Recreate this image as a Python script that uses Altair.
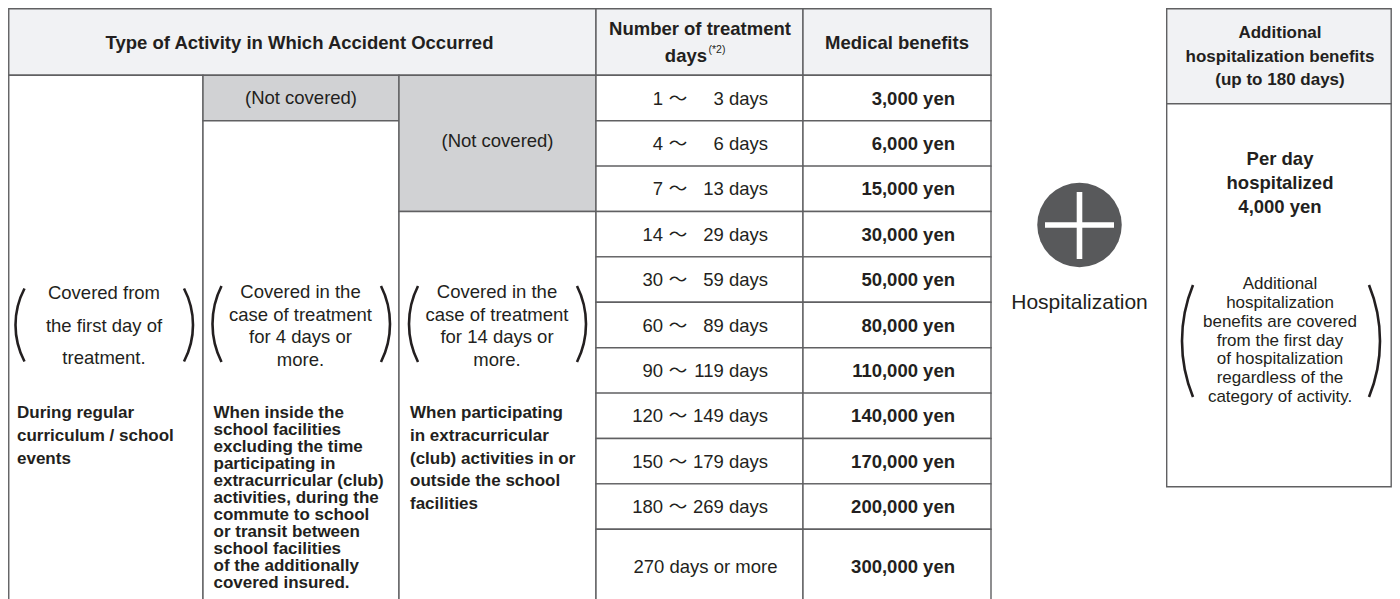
import math
import altair as alt
import pandas as pd

# ------------------------------------------------------------------ data
day_from = [1, 4, 7, 14, 30, 60, 90, 120, 150, 180]
day_to = [3, 6, 13, 29, 59, 89, 119, 149, 179, 269]
open_ended_from = 270
medical_benefit_yen = [3000, 6000, 15000, 30000, 50000, 80000,
                       110000, 140000, 170000, 200000, 300000]
coverage_start_day = [1, 4, 14]
coverage_notes = [
    ["Covered from", "the first day of", "treatment."],
    ["Covered in the", "case of treatment", "for 4 days or", "more."],
    ["Covered in the", "case of treatment", "for 14 days or", "more."],
]
activity_types = [
    ["During regular", "curriculum / school", "events"],
    ["When inside the", "school facilities", "excluding the time",
     "participating in", "extracurricular (club)", "activities, during the",
     "commute to school", "or transit between", "school facilities",
     "of the additionally", "covered insured."],
    ["When participating", "in extracurricular", "(club) activities in or",
     "outside the school", "facilities"],
]
header_activity = "Type of Activity in Which Accident Occurred"
header_days = ["Number of treatment", "days"]
header_days_note = "(*2)"
header_benefit = "Medical benefits"
not_covered = "(Not covered)"
hosp_label = "Hospitalization"
hosp_max_days = 180
hosp_per_day_yen = 4000
hosp_header = ["Additional", "hospitalization benefits", f"(up to {hosp_max_days} days)"]
hosp_amount = ["Per day", "hospitalized", f"{hosp_per_day_yen:,} yen"]
hosp_note = ["Additional", "hospitalization", "benefits are covered",
             "from the first day", "of hospitalization", "regardless of the",
             "category of activity."]

# ------------------------------------------------------------------ style / layout
FONT = "Liberation Sans"
CJK = "Noto Sans CJK JP"
INK = "#231f20"
LINE = "#606062"
HEAD_FILL = "#f1f2f4"
GRAY_FILL = "#d1d2d4"
WHITE = "#ffffff"

L, T = 8.75, 8.75
HB = 75.3
COLS = [L, 203, 399, 596, 803, 991]
ROW0, ROWH = 75.3, 45.4
BOTTOM = 605
n = len(day_from)
row_top = [ROW0 + ROWH * i for i in range(n + 1)]
row_bot = row_top[1:] + [BOTTOM]

BOX_L, BOX_R, BOX_HB, BOX_B = 1166.7, 1391.2, 103.7, 486.7
CIRC_X, CIRC_Y, CIRC_D = 1079.5, 225, 84.5

# ------------------------------------------------------------------ cells
rects = []


def cell(x1, x2, y1, y2, fill, stroke=LINE):
    rects.append(dict(x1=x1, x2=x2, y1=y1, y2=y2, fill=fill, stroke=stroke))


cell(COLS[0], COLS[3], T, HB, HEAD_FILL)
cell(COLS[3], COLS[4], T, HB, HEAD_FILL)
cell(COLS[4], COLS[5], T, HB, HEAD_FILL)

gray_rows = []
for k, start in enumerate(coverage_start_day):
    g = sum(1 for d in day_to if d < start)
    gray_rows.append(g)
    if g > 0:
        cell(COLS[k], COLS[k + 1], ROW0, row_top[g], GRAY_FILL)
        cell(COLS[k], COLS[k + 1], row_top[g], BOTTOM, WHITE)
    else:
        cell(COLS[k], COLS[k + 1], ROW0, BOTTOM, WHITE)

for i in range(n + 1):
    cell(COLS[3], COLS[4], row_top[i], row_bot[i], WHITE)
    cell(COLS[4], COLS[5], row_top[i], row_bot[i], WHITE)

cell(BOX_L, BOX_R, T, BOX_HB, HEAD_FILL)
cell(BOX_L, BOX_R, BOX_HB, BOX_B, WHITE)

cross = [
    dict(x1=CIRC_X - 34.5, x2=CIRC_X + 34.5, y1=CIRC_Y - 2.8, y2=CIRC_Y + 2.8, fill=WHITE, stroke="transparent"),
    dict(x1=CIRC_X - 2.8, x2=CIRC_X + 2.8, y1=CIRC_Y - 33, y2=CIRC_Y + 34, fill=WHITE, stroke="transparent"),
]

# ------------------------------------------------------------------ texts
texts = []


def add(x, y, s, size, weight="normal", align="center", font=FONT):
    texts.append(dict(x=x, y=y, text=s, size=size, weight=weight, align=align, font=font))


add(299.5, 43, header_activity, 18.5, "bold")
add(700, 29, header_days[0], 18.5, "bold")
add(707, 56, header_days[1], 18.5, "bold", "right")
add(708.5, 50, header_days_note, 10.5, "normal", "left")
add(897, 43, header_benefit, 18.5, "bold")

for i in range(n):
    yc = row_top[i] + 23.2
    add(663, yc, str(day_from[i]), 18.5, "normal", "right")
    add(678, yc, "〜", 18.5, "normal", "center", CJK)
    add(768, yc, f"{day_to[i]} days", 18.5, "normal", "right")
add(705.5, (row_top[n] + BOTTOM) / 2, f"{open_ended_from} days or more", 18.5)
for i, v in enumerate(medical_benefit_yen):
    yc = row_top[i] + 23.2 if i < n else (row_top[n] + BOTTOM) / 2
    add(955, yc, f"{v:,} yen", 18.5, "bold", "right")

# not covered labels
for k, g in enumerate(gray_rows):
    if g > 0:
        xc = (COLS[k] + COLS[k + 1]) / 2
        yc = (ROW0 + row_top[g]) / 2 - (0 if g == 1 else 2)
        add(xc, yc, not_covered, 18.5)

# coverage notes
note_x = [104, 300.5, 497]
note_y0 = [293.3, 291.7, 291.7]
note_dy = [32.2, 22.8, 22.8]
for k, lines in enumerate(coverage_notes):
    for j, s in enumerate(lines):
        add(note_x[k], note_y0[k] + j * note_dy[k], s, 18.5)

# activity types (bold, left aligned)
act_x = [17, 213.5, 410]
act_y0 = [413.3, 412.7, 412.7]
act_dy = [23.0, 17.06, 22.9]
for k, lines in enumerate(activity_types):
    for j, s in enumerate(lines):
        add(act_x[k], act_y0[k] + j * act_dy[k], s, 17, "bold", "left")

# hospitalization side
add(CIRC_X, 303.3, hosp_label, 21)
for j, s in enumerate(hosp_header):
    add(1280, 33.3 + j * 23.4, s, 17, "bold")
for j, s in enumerate(hosp_amount):
    add(1280, 159.3 + j * 24, s, 18.5, "bold")
for j, s in enumerate(hosp_note):
    add(1280, 284 + j * 18.85, s, 17)

# ------------------------------------------------------------------ brackets (arcs)
brackets = [  # left-most x, right-most x, top, bottom, depth
    (15.5, 193, 288.5, 361.5, 9),
    (212.5, 390, 286, 362, 9),
    (409, 586, 286, 362, 9),
    (1182, 1380, 285, 397, 11),
]
arcs = []
TH = 2.6
for xl, xr, yt, yb, d in brackets:
    a = (yb - yt) / 2
    R = (a * a + d * d) / (2 * d)
    al = math.asin(a / R)
    cy = (yt + yb) / 2
    arcs.append(dict(cx=xl + R, cy=cy, t1=1.5 * math.pi - al, t2=1.5 * math.pi + al,
                     ro=R + TH / 2, ri=R - TH / 2))
    arcs.append(dict(cx=xr - R, cy=cy, t1=0.5 * math.pi - al, t2=0.5 * math.pi + al,
                     ro=R + TH / 2, ri=R - TH / 2))

# ------------------------------------------------------------------ chart
W, H = 1384, 591
xs = alt.Scale(domain=[8, 8 + W], nice=False, zero=False)
ys = alt.Scale(domain=[8, 8 + H], nice=False, zero=False, reverse=True)

rect_layer = alt.Chart(pd.DataFrame(rects)).mark_rect(strokeWidth=1.4, clip=True).encode(
    x=alt.X("x1:Q", scale=xs, axis=None), x2="x2:Q",
    y=alt.Y("y1:Q", scale=ys, axis=None), y2="y2:Q",
    fill=alt.Fill("fill:N", scale=None), stroke=alt.Stroke("stroke:N", scale=None))

circle_layer = alt.Chart(pd.DataFrame([dict(cx=CIRC_X, cy=CIRC_Y, s=CIRC_D ** 2)])).mark_circle(
    color="#58595b", opacity=1).encode(
    x=alt.X("cx:Q", scale=xs, axis=None), y=alt.Y("cy:Q", scale=ys, axis=None),
    size=alt.Size("s:Q", scale=None))

cross_layer = alt.Chart(pd.DataFrame(cross)).mark_rect().encode(
    x=alt.X("x1:Q", scale=xs, axis=None), x2="x2:Q",
    y=alt.Y("y1:Q", scale=ys, axis=None), y2="y2:Q",
    fill=alt.Fill("fill:N", scale=None))

arc_layer = alt.Chart(pd.DataFrame(arcs)).mark_arc(color=INK).encode(
    x=alt.X("cx:Q", scale=xs, axis=None), y=alt.Y("cy:Q", scale=ys, axis=None),
    theta=alt.Theta("t1:Q", scale=None, stack=None), theta2="t2:Q",
    radius=alt.Radius("ro:Q", scale=None), radius2="ri:Q")

tdf = pd.DataFrame(texts)
text_layers = []
for (weight, align, font), grp in tdf.groupby(["weight", "align", "font"]):
    text_layers.append(
        alt.Chart(grp).mark_text(fontWeight=weight, align=align, font=font,
                                 baseline="middle", color=INK).encode(
            x=alt.X("x:Q", scale=xs, axis=None), y=alt.Y("y:Q", scale=ys, axis=None),
            text="text:N", size=alt.Size("size:Q", scale=None)))

chart = alt.layer(rect_layer, circle_layer, cross_layer, arc_layer, *text_layers).properties(
    width=W, height=H, padding=0, autosize="none", background="white"
).configure_view(stroke=None)

chart.save("out.html", embed_options={"renderer": "svg", "actions": False})
